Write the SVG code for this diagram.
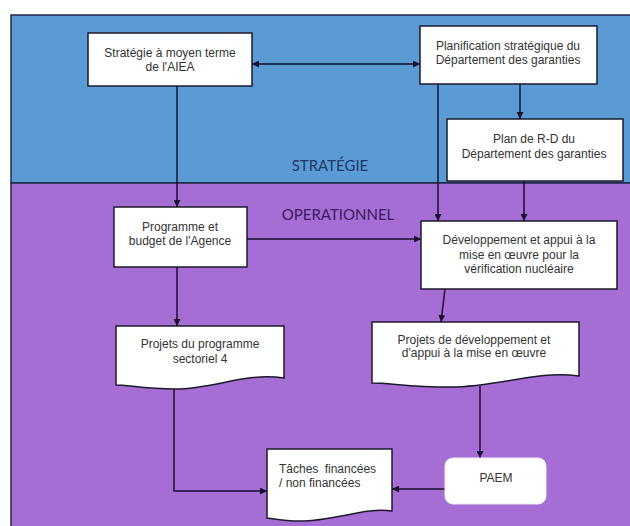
<svg xmlns="http://www.w3.org/2000/svg" width="630" height="526" viewBox="0 0 630 526">
<defs>
<style>
.box{fill:#fff;stroke:#1c1a2a;stroke-width:1.5}
.t{font-family:"Liberation Sans",Arial,sans-serif;font-size:12px;fill:#333;text-anchor:middle}
.c{fill:none;stroke:#1a1030;stroke-width:1.5}
.zone{font-family:Lato,"Open Sans",sans-serif;font-size:15px;text-anchor:middle}
</style>
<marker id="ah" viewBox="0 0 10 10" refX="10" refY="5" markerWidth="7" markerHeight="7" markerUnits="userSpaceOnUse" orient="auto-start-reverse">
<path d="M0,0 L10,5 L0,10 Z" fill="#1a1030"/>
</marker>
</defs>
<rect x="0" y="0" width="630" height="526" fill="#fff"/>
<g id="zones">
<rect x="11" y="15" width="630" height="168" fill="#5b9bd5" stroke="#1f2a44" stroke-width="1.5"/>
<rect x="11" y="183" width="630" height="350" fill="#a66dd4" stroke="#1f2a44" stroke-width="1.5"/>
<text class="zone" x="330" y="171" fill="#1f3864">STRATÉGIE</text>
<text class="zone" x="338" y="220" fill="#3a1b5c">OPERATIONNEL</text>
</g>
<g id="connectors">
<line class="c" x1="252" y1="64" x2="420" y2="64" marker-start="url(#ah)" marker-end="url(#ah)"/>
<line class="c" x1="177" y1="86" x2="177" y2="207" marker-end="url(#ah)"/>
<line class="c" x1="438" y1="84" x2="438" y2="221" marker-end="url(#ah)"/>
<line class="c" x1="520" y1="84" x2="520" y2="119" marker-end="url(#ah)"/>
<line class="c" x1="524" y1="181" x2="524" y2="221" marker-end="url(#ah)"/>
<line class="c" x1="247" y1="239" x2="421" y2="239" marker-end="url(#ah)"/>
<line class="c" x1="177" y1="267" x2="177" y2="326" marker-end="url(#ah)"/>
<line class="c" x1="445" y1="289" x2="441" y2="322" marker-end="url(#ah)"/>
<polyline class="c" points="174,387 174,491 267,491" marker-end="url(#ah)"/>
<line class="c" x1="480" y1="386" x2="480" y2="458" marker-end="url(#ah)"/>
<line class="c" x1="445" y1="489" x2="392" y2="489" marker-end="url(#ah)"/>
</g>
<g id="n1">
<rect class="box" x="88" y="33" width="164" height="53"/>
<text class="t" x="170" y="57">Stratégie à moyen terme</text>
<text class="t" x="170" y="71">de l'AIEA</text>
</g>
<g id="n2">
<rect class="box" x="420" y="26" width="177" height="58"/>
<text class="t" x="508" y="50">Planification stratégique du</text>
<text class="t" x="508" y="64">Département des garanties</text>
</g>
<g id="n3">
<rect class="box" x="447" y="119" width="176" height="62"/>
<text class="t" x="534" y="143">Plan de R-D du</text>
<text class="t" x="534" y="158">Département des garanties</text>
</g>
<g id="n4">
<rect class="box" x="114" y="207" width="133" height="60"/>
<text class="t" x="180" y="231">Programme et</text>
<text class="t" x="180" y="245">budget de l'Agence</text>
</g>
<g id="n5">
<rect class="box" x="421" y="221" width="196" height="68"/>
<text class="t" x="519" y="244">Développement et appui à la</text>
<text class="t" x="519" y="259">mise en œuvre pour la</text>
<text class="t" x="519" y="273">vérification nucléaire</text>
</g>
<g id="n6">
<path class="box" d="M116,326 H284 V378 C245,372 215,389 175,389 C145,389 128,385 116,385 Z"/>
<text class="t" x="200" y="348">Projets du programme</text>
<text class="t" x="200" y="363">sectoriel 4</text>
</g>
<g id="n7">
<path class="box" d="M372,322 H579 V376 C535,370 500,387 450,387 C410,387 390,383 372,383 Z"/>
<text class="t" x="474" y="344">Projets de développement et</text>
<text class="t" x="474" y="357">d'appui à la mise en œuvre</text>
</g>
<g id="n8">
<path class="box" d="M267,449 H392 V511 C365,507 335,521 300,521 C285,521 275,519 267,518 Z"/>
<text class="t" x="279" y="473" style="text-anchor:start" word-spacing="3">Tâches financées</text>
<text class="t" x="279" y="487" style="text-anchor:start">/ non financées</text>
</g>
<g id="n9">
<rect x="445" y="458" width="101" height="46" rx="8" fill="#fff" stroke="#eee" stroke-width="1"/>
<text class="t" x="496" y="482">PAEM</text>
</g>
</svg>
